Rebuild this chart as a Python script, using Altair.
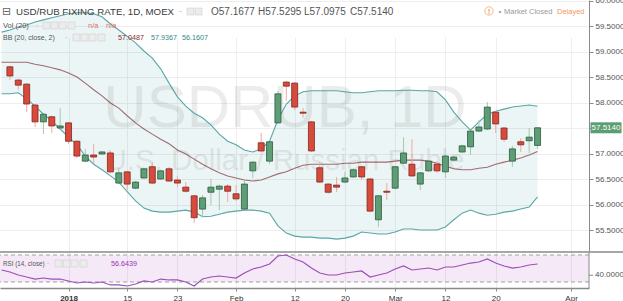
import altair as alt
import pandas as pd

# ---------------- data ----------------
bar_index = list(range(64))
open_ = [58.71, 58.45, 58.37, 57.96, 57.63, 57.73, 57.51, 57.61, 57.25, 56.86,
         56.98, 57.00, 57.02, 56.43, 56.65, 56.33, 56.53, 56.75, 56.51, 56.71,
         56.49, 56.35, 56.18, 55.92, 56.25, 56.31, 56.37, 56.22, 55.92, 56.67,
         57.22, 56.86, 57.61, 58.41, 58.39, 57.82, 57.63, 56.73, 56.41, 56.39,
         56.45, 56.55, 56.75, 56.51, 55.71, 56.27, 56.33, 56.82, 56.80, 56.41,
         56.67, 56.80, 56.65, 56.88, 57.04, 57.14, 57.45, 57.49, 57.82, 57.51,
         56.86, 57.24, 57.26, 57.1677]
high_ = [58.73, 58.47, 58.39, 57.98, 57.80, 57.75, 57.90, 57.63, 57.27, 57.10,
         57.20, 57.06, 57.06, 56.73, 56.67, 56.47, 56.73, 56.84, 56.69, 56.75,
         56.57, 56.45, 56.20, 56.20, 56.51, 56.40, 56.41, 56.39, 56.47, 56.86,
         57.41, 57.26, 58.24, 58.43, 58.41, 57.90, 57.65, 56.84, 56.43, 56.55,
         56.65, 56.71, 56.77, 56.53, 56.20, 56.43, 56.77, 57.33, 57.29, 56.65,
         56.88, 56.86, 56.98, 56.96, 57.18, 57.47, 57.67, 58.02, 57.84, 57.53,
         57.16, 57.31, 57.51, 57.5295]
low_ = [58.45, 58.26, 57.82, 57.53, 57.39, 57.41, 57.47, 57.20, 56.92, 56.84,
        56.82, 56.98, 56.63, 56.41, 56.29, 56.31, 56.51, 56.41, 56.49, 56.45,
        56.35, 56.24, 55.65, 55.76, 56.00, 55.90, 56.06, 56.08, 55.90, 56.53,
        57.04, 56.80, 57.59, 58.04, 57.86, 57.71, 57.04, 56.43, 56.22, 56.25,
        56.43, 56.53, 56.49, 55.86, 55.57, 56.10, 56.31, 56.80, 56.55, 56.29,
        56.65, 56.63, 56.53, 56.86, 57.02, 56.98, 57.43, 57.47, 57.41, 57.24,
        56.75, 57.04, 57.02, 57.0975]
close_ = [58.53, 58.35, 57.98, 57.63, 57.78, 57.55, 57.55, 57.25, 56.96, 56.98,
          56.94, 57.04, 56.65, 56.63, 56.41, 56.45, 56.71, 56.43, 56.67, 56.47,
          56.43, 56.27, 55.75, 56.14, 56.35, 56.37, 56.27, 56.12, 56.41, 56.84,
          57.06, 57.24, 58.18, 58.33, 57.92, 57.80, 57.06, 56.45, 56.25, 56.35,
          56.53, 56.69, 56.55, 55.88, 56.18, 56.25, 56.75, 57.02, 56.57, 56.63,
          56.86, 56.67, 56.96, 56.94, 57.16, 57.45, 57.53, 57.92, 57.59, 57.29,
          57.10, 57.18, 57.33, 57.5140]

band_index = list(range(-1, 64))
bb_upper = [59.39, 59.43, 59.49, 59.53, 59.59, 59.63, 59.67, 59.71, 59.75, 59.77,
            59.77, 59.75, 59.69, 59.55, 59.43, 59.31, 59.18, 59.02, 58.88, 58.67,
            58.39, 58.12, 57.94, 57.80, 57.71, 57.57, 57.39, 57.25, 57.18, 57.08,
            57.04, 57.10, 57.25, 57.67, 57.98, 58.14, 58.22, 58.24, 58.24, 58.24,
            58.24, 58.22, 58.20, 58.20, 58.22, 58.24, 58.24, 58.24, 58.25, 58.25,
            58.24, 58.24, 58.22, 58.06, 57.82, 57.63, 57.47, 57.63, 57.78, 57.84,
            57.88, 57.92, 57.94, 57.96, 57.9367]
bb_basis = [58.80, 58.80, 58.80, 58.80, 58.76, 58.73, 58.69, 58.65, 58.59, 58.51,
            58.39, 58.26, 58.14, 58.00, 57.90, 57.75, 57.61, 57.49, 57.39, 57.29,
            57.20, 57.08, 57.00, 56.90, 56.80, 56.71, 56.63, 56.57, 56.53, 56.49,
            56.47, 56.49, 56.55, 56.61, 56.65, 56.72, 56.78, 56.80, 56.80, 56.80,
            56.80, 56.82, 56.82, 56.84, 56.84, 56.84, 56.84, 56.86, 56.88, 56.88,
            56.88, 56.86, 56.82, 56.76, 56.71, 56.69, 56.69, 56.72, 56.74, 56.80,
            56.84, 56.88, 56.92, 56.98, 57.0487]
bb_lower = [58.18, 58.18, 58.20, 58.08, 57.94, 57.78, 57.65, 57.49, 57.33, 57.18,
            56.96, 56.80, 56.69, 56.57, 56.45, 56.26, 56.08, 55.94, 55.88, 55.86,
            55.86, 55.88, 55.90, 55.86, 55.77, 55.78, 55.82, 55.86, 55.88, 55.90,
            55.90, 55.88, 55.84, 55.59, 55.45, 55.39, 55.37, 55.37, 55.35, 55.35,
            55.33, 55.35, 55.39, 55.47, 55.45, 55.43, 55.43, 55.47, 55.53, 55.53,
            55.51, 55.51, 55.51, 55.57, 55.71, 55.84, 55.90, 55.84, 55.80, 55.82,
            55.86, 55.88, 55.92, 55.96, 56.1607]
rsi_14 = [47.8, 44.8, 40.4, 37.4, 34.4, 35.9, 34.4, 34.4, 31.5, 28.5,
          30.0, 28.5, 30.0, 25.6, 25.6, 24.1, 27.0, 31.5, 30.0, 34.4,
          33.0, 33.0, 30.0, 24.1, 34.4, 37.4, 38.9, 37.4, 35.9, 43.3,
          49.3, 52.2, 56.6, 68.5, 70.0, 64.1, 59.6, 50.7, 43.3, 40.4,
          40.4, 43.3, 44.8, 46.3, 37.4, 40.4, 43.3, 49.3, 53.7, 47.8,
          49.3, 50.7, 47.8, 52.2, 52.2, 55.2, 58.1, 59.6, 64.1, 58.1,
          53.7, 50.7, 52.2, 55.2, 56.64]

x_tick_index = [7, 14, 20, 27, 34, 40, 46, 52, 58, 67]
x_tick_label = ["2018", "15", "23", "Feb", "12", "20", "Mar", "12", "20", "Apr"]
price_ticks = [55.5, 56.0, 56.5, 57.0, 57.5, 58.0, 58.5, 59.0, 59.5, 60.0]
rsi_ticks = [40]
rsi_bounds = [70, 30]
last_ohlc = ["O57.1677", "H57.5295", "L57.0975", "C57.5140"]
last_close = [57.5140]
bb_last = ["57.0487", "57.9367", "56.1607"]
rsi_last = "56.6439"

candles = pd.DataFrame({"i": bar_index, "o": open_, "h": high_, "l": low_, "c": close_})
bands = pd.DataFrame({"i": band_index, "up": bb_upper, "mid": bb_basis,
                      "lo": bb_lower, "rsi": rsi_14})

# ---------------- scales / axes ----------------
FONT = "Liberation Sans"
x_scale = alt.Scale(domain=[-0.587, 68.545], nice=False, zero=False)
p_scale = alt.Scale(domain=[55.098, 60.0196], range=[251, 0], nice=False, zero=False)
r_scale = alt.Scale(domain=[21.11, 74.44], range=[288, 252], nice=False, zero=False)

label_expr = ("[" + ",".join("'%s'" % s for s in x_tick_label) + "][indexof(["
              + ",".join(str(v) for v in x_tick_index) + "], datum.value)]")
x_axis = alt.Axis(values=x_tick_index, labelExpr=label_expr, title=None, grid=True,
                  gridColor="#eeeeee", domainColor="#8a8a8a", domainWidth=1.5,
                  tickColor="#8a8a8a", tickSize=3, labelFontSize=8, labelColor="#333",
                  labelPadding=3, labelFont=FONT, labelOverlap=False,
                  labelFontWeight={"condition": {"test": "datum.value == 7", "value": "bold"},
                                   "value": "normal"})
# the axis label hidden behind the last-price tag is left blank, as in the original
price_label_expr = "abs(datum.value - %s) < 0.2 ? '' : format(datum.value, '.4f')" % last_close[0]
price_axis = alt.Axis(orient="right", values=price_ticks, labelExpr=price_label_expr, title=None,
                      grid=True, gridColor="#eeeeee", domainColor="#8a8a8a",
                      tickColor="#8a8a8a", tickSize=4, labelFontSize=8, labelColor="#555",
                      labelPadding=2, labelOverlap=False, labelFont=FONT)
X = alt.X("i:Q", scale=x_scale, axis=x_axis)

one = alt.Data(values=[{"t": ""}])


def label(text, x, y, color="#555", size=8, weight="normal", align="left",
          font=FONT, opacity=1.0):
    return alt.Chart(alt.Data(values=[{"t": text}])).mark_text(
        align=align, baseline="alphabetic", color=color, fontSize=size,
        fontWeight=weight, font=font, opacity=opacity
    ).encode(x=alt.value(x), y=alt.value(y), text="t:N")


def icon(x, y, w=7, h=7):
    return alt.Chart(one).mark_rect(fill="#ececec", stroke="#d0d0d0", strokeWidth=0.6).encode(
        x=alt.value(x), x2=alt.value(x + w), y=alt.value(y), y2=alt.value(y + h))


# ---------------- layers ----------------
band_fill = alt.Chart(bands).mark_area(color="#138484", opacity=0.08, clip=True).encode(
    x=X, y=alt.Y("up:Q", scale=p_scale, axis=price_axis), y2="lo:Q")

rsi_zone = alt.Chart(pd.DataFrame({"top": [rsi_bounds[0]], "bot": [rsi_bounds[1]]})).mark_rect(
    color="#9c27b0", opacity=0.10).encode(
    y=alt.Y("top:Q", scale=r_scale, axis=None), y2="bot:Q")

rsi_dash = alt.Chart(pd.DataFrame({"v": rsi_bounds})).mark_rule(
    color="#a0a0a0", strokeDash=[4, 3], strokeWidth=1).encode(
    y=alt.Y("v:Q", scale=r_scale, axis=None))

wm1 = label("USDRUB, 1D", 285, 127, color="#000", size=60, align="center", opacity=0.07)
wm2 = label("U.S. Dollar / Russian Ruble", 285, 170, color="#000", size=29.5, align="center", opacity=0.07)

line_up = alt.Chart(bands).mark_line(color="#3f9696", strokeWidth=1.1, opacity=0.85, clip=True).encode(
    x=X, y=alt.Y("up:Q", scale=p_scale, axis=None))
line_lo = alt.Chart(bands).mark_line(color="#3f9696", strokeWidth=1.1, opacity=0.85, clip=True).encode(
    x=X, y=alt.Y("lo:Q", scale=p_scale, axis=None))
line_mid = alt.Chart(bands).mark_line(color="#873c45", strokeWidth=1.1, opacity=0.75, clip=True).encode(
    x=X, y=alt.Y("mid:Q", scale=p_scale, axis=None))

up_test = "datum.c >= datum.o"
wicks = alt.Chart(candles).mark_rule(strokeWidth=1).encode(
    x=X, y=alt.Y("l:Q", scale=p_scale, axis=None), y2="h:Q",
    color=alt.condition(up_test, alt.value("#a6c8b1"), alt.value("#efaaa4")))
bodies = alt.Chart(candles).mark_bar(size=6, strokeWidth=0.8).encode(
    x=X, y=alt.Y("o:Q", scale=p_scale, axis=None), y2="c:Q",
    color=alt.condition(up_test, alt.value("#5d9e76"), alt.value("#d84a3c")),
    stroke=alt.condition(up_test, alt.value("#2c5a3c"), alt.value("#80271e")))

rsi_line = alt.Chart(bands).mark_line(color="#9b4fb8", strokeWidth=1.2, clip=True).encode(
    x=X, y=alt.Y("rsi:Q", scale=r_scale, axis=None))

separator = alt.Chart(one).mark_rule(color="#8a8a8a", strokeWidth=1.5).encode(
    x=alt.value(0), x2=alt.value(623), y=alt.value(252))
rsi_domain = alt.Chart(one).mark_rule(color="#8a8a8a", strokeWidth=1).encode(
    x=alt.value(589), y=alt.value(252), y2=alt.value(288))
rsi_tick = alt.Chart(pd.DataFrame({"v": rsi_ticks})).mark_rule(color="#8a8a8a").encode(
    x=alt.value(589), x2=alt.value(593), y=alt.Y("v:Q", scale=r_scale, axis=None))
rsi_tick_lbl = alt.Chart(pd.DataFrame({"v": rsi_ticks})).mark_text(
    align="left", baseline="middle", fontSize=8, color="#555", font=FONT).encode(
    x=alt.value(595), y=alt.Y("v:Q", scale=r_scale, axis=None),
    text=alt.Text("v:Q", format=".4f"))

tag = alt.Chart(pd.DataFrame({"c": last_close})).mark_tick(
    orient="horizontal", size=31, thickness=11, color="#5b9e74", opacity=1).encode(
    x=alt.value(606), y=alt.Y("c:Q", scale=p_scale, axis=None))
tag_txt = alt.Chart(pd.DataFrame({"c": last_close})).mark_text(
    align="center", baseline="middle", fontSize=8, color="#ffffff", font=FONT).encode(
    x=alt.value(606), y=alt.Y("c:Q", scale=p_scale, axis=None),
    text=alt.Text("c:Q", format=".4f"))

header = [
    label("⊟", 2, 15, color="#666", size=11, font="DejaVu Sans"),
    label("USD/RUB FIXING RATE, 1D, MOEX", 16, 15, color="#3a3a3a", size=9.7),
    label("-", 179, 14, color="#bbb", size=9),
    icon(187, 8), icon(195, 8),
    label(last_ohlc[0], 211, 15, color="#555", size=10),
    label(last_ohlc[1], 258, 15, color="#555", size=10),
    label(last_ohlc[2], 304, 15, color="#555", size=10),
    label(last_ohlc[3], 350, 15, color="#555", size=10),
    label("Vol (20)", 3, 28, color="#555", size=7.5),
    label("-", 36, 27, color="#bbb", size=7),
    icon(43, 22), icon(51, 22), icon(59, 22), icon(68, 22),
    label("n/a", 88, 28, color="#e57368", size=7.5),
    label("n/a", 106, 28, color="#e57368", size=7.5),
    label("BB (20, close, 2)", 3, 40, color="#555", size=7),
    label("-", 65, 39, color="#bbb", size=7),
    icon(73, 34), icon(81, 34), icon(89, 34), icon(98, 34),
    label(bb_last[0], 118, 40, color="#8b2b2b", size=7.2),
    label(bb_last[1], 151, 40, color="#2f8a8a", size=7.2),
    label(bb_last[2], 182, 40, color="#2f8a8a", size=7.2),
    label("!", 489, 14, color="#f39a61", size=8, weight="bold", align="center"),
    alt.Chart(one).mark_point(shape="circle", size=70, color="#f39a61", strokeWidth=1).encode(
        x=alt.value(489), y=alt.value(11)),
    label("•", 500, 14, color="#999", size=8, align="center"),
    label("Market Closed", 504, 14, color="#999", size=7.5),
    label("Delayed", 557, 14, color="#f39a61", size=7.5),
    label("RSI (14, close)", 3, 266, color="#555", size=6.3),
    label("-", 47, 265, color="#bbb", size=7),
    icon(55, 260), icon(63, 260), icon(71, 260), icon(80, 260),
    label(rsi_last, 111, 266, color="#9b2fb5", size=7.2),
]

chart = alt.layer(
    band_fill, rsi_zone, rsi_dash, wm1, wm2, line_up, line_lo, line_mid,
    wicks, bodies, rsi_line, separator, rsi_domain, rsi_tick, rsi_tick_lbl,
    tag, tag_txt, *header
).resolve_scale(y="independent").properties(
    width=589, height=288,
    padding={"left": 0, "top": 0, "right": 34, "bottom": 13},
    autosize=alt.AutoSizeParams(type="none"),
    background="#ffffff",
).configure_view(strokeWidth=0)

chart.save("out.html", embed_options={"renderer": "svg", "actions": False})
